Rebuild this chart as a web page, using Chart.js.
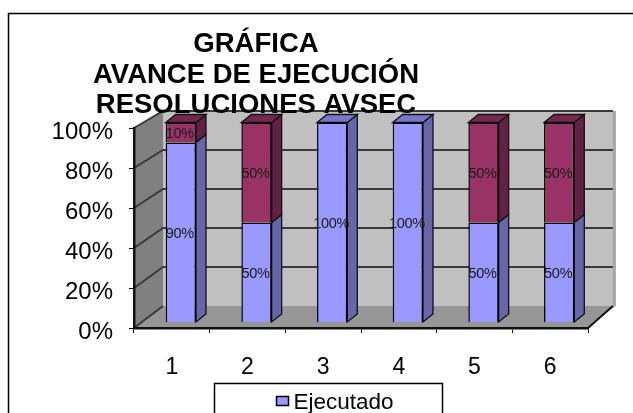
<!DOCTYPE html>
<html><head><meta charset="utf-8">
<style>html,body{margin:0;padding:0;background:#fff;overflow:hidden}canvas{display:block}</style>
<script src="https://cdn.jsdelivr.net/npm/chart.js@4"></script>
</head><body><canvas id="c" width="633" height="413"></canvas>
<script>
const categories = ['1','2','3','4','5','6'];
const ejecutado = [90,50,100,100,50,50];
const pendiente = [10,50,0,0,50,50];
const titleLines = ['GRÁFICA','AVANCE DE EJECUCIÓN','RESOLUCIONES AVSEC'];
const yTicks = [0,20,40,60,80,100];

const FONT = '"Liberation Sans", Arial, sans-serif';
const backX = x => x + 29 - (x - 134) * 0.009;
const backY = y => y - 22 + (328 - y) * 0.025;
const SHIFT = {x: 9, y: -5.5}, SIDE = {x: 10, y: -8};
const shade = {
  '#9999FF': {side: '#6666A8', top: '#7777CC'},
  '#993366': {side: '#632146', top: '#752750'}
};
function poly(ctx, pts, fill, stroke, lw) {
  ctx.beginPath();
  pts.forEach((p, i) => i ? ctx.lineTo(p[0], p[1]) : ctx.moveTo(p[0], p[1]));
  ctx.closePath();
  if (fill) { ctx.fillStyle = fill; ctx.fill(); }
  if (stroke) { ctx.strokeStyle = stroke; ctx.lineWidth = lw || 1; ctx.stroke(); }
}
const scene = {
  id: 'scene',
  beforeDraw(chart) {
    const {ctx, chartArea: a, scales: {y}} = chart;
    const L = a.left, R = a.right, T = y.getPixelForValue(100), B = y.getPixelForValue(0);
    ctx.save();
    // frame
    ctx.strokeStyle = '#000'; ctx.lineWidth = 1.5;
    ctx.strokeRect(8.5, 13.5, 640, 420);
    // walls
    poly(ctx, [[backX(L),backY(T)],[backX(R)+2,backY(T)],[backX(R)+2,backY(B)],[backX(L),backY(B)]], '#C0C0C0');
    ctx.fillStyle = '#A6A6A6'; ctx.fillRect(backX(R), backY(T), 3, backY(B)-backY(T));
    poly(ctx, [[L,T],[backX(L),backY(T)],[backX(L),backY(B)],[L,B]], '#808080');
    poly(ctx, [[L,B],[backX(L),backY(B)],[backX(R)+2,backY(B)],[R,B]], '#969696');
    // grid
    ctx.strokeStyle = '#3A3A3A'; ctx.lineWidth = 2;
    yTicks.forEach(v => {
      const p = y.getPixelForValue(v);
      ctx.beginPath();
      ctx.moveTo(L, p); ctx.lineTo(backX(L), backY(p));
      if (v > 0) ctx.lineTo(backX(R), backY(p));
      ctx.stroke();
    });
    // right floor edge
    ctx.strokeStyle = '#111'; ctx.lineWidth = 2;
    ctx.beginPath(); ctx.moveTo(R, B); ctx.lineTo(backX(R), backY(B)); ctx.stroke();
    ctx.restore();
  },
  beforeDatasetsDraw(chart) {
    const {ctx} = chart;
    ctx.save();
    ctx.translate(SHIFT.x, SHIFT.y);
    chart.data.datasets.forEach((ds, di) => {
      const s = shade[ds.backgroundColor];
      chart.getDatasetMeta(di).data.forEach((el, i) => {
        if (!ds.data[i]) return;
        const {x, y, base, width} = el.getProps(['x','y','base','width'], true);
        const r = x + width / 2, l = x - width / 2;
        poly(ctx, [[r,y],[r+SIDE.x,y+SIDE.y],[r+SIDE.x,base+SIDE.y],[r,base]], s.side, '#111', 1.3);
        const isTop = di === chart.data.datasets.length - 1 || !chart.data.datasets[di+1].data[i];
        if (isTop) poly(ctx, [[l,y],[l+SIDE.x,y+SIDE.y],[r+SIDE.x,y+SIDE.y],[r,y]], s.top, '#111', 1.3);
      });
    });
  },
  afterDatasetsDraw(chart) {
    const {ctx} = chart;
    ctx.font = '14.5px ' + FONT;
    ctx.letterSpacing = '-0.3px';
    ctx.fillStyle = '#1a1a1a';
    ctx.textAlign = 'center'; ctx.textBaseline = 'middle';
    chart.data.datasets.forEach((ds, di) => {
      chart.getDatasetMeta(di).data.forEach((el, i) => {
        if (!ds.data[i]) return;
        const {x, y, base} = el.getProps(['x','y','base'], true);
        ctx.fillText(ds.data[i] + '%', x - 1, (y + base) / 2 + 1.5);
      });
    });
    ctx.letterSpacing = '0px';
    ctx.restore();
  },
  afterDraw(chart) {
    const {ctx} = chart;
    ctx.save();
    // title
    ctx.fillStyle = '#000';
    ctx.font = 'bold 27.5px ' + FONT;
    ctx.textAlign = 'center'; ctx.textBaseline = 'alphabetic';
    titleLines.forEach((t, i) => ctx.fillText(t, 256, 52 + i * 30.5));
    // legend
    const ds = chart.data.datasets[0];
    ctx.fillStyle = '#fff'; ctx.strokeStyle = '#000'; ctx.lineWidth = 1.5;
    ctx.fillRect(214, 383, 228, 40); ctx.strokeRect(214.5, 383.5, 228, 40);
    ctx.fillStyle = ds.backgroundColor; ctx.lineWidth = 1.5;
    ctx.fillRect(276.5, 396.5, 12, 9); ctx.strokeRect(276.5, 396.5, 12, 9);
    ctx.fillStyle = '#000'; ctx.font = '22.5px ' + FONT; ctx.textAlign = 'left';
    ctx.fillText(ds.label, 293.5, 409);
    ctx.restore();
  }
};
new Chart(document.getElementById('c'), {
  type: 'bar',
  data: {
    labels: categories,
    datasets: [
      {label: 'Ejecutado', data: ejecutado, backgroundColor: '#9999FF', borderColor: '#000', borderWidth: 1.5},
      {label: 'Pendiente', data: pendiente, backgroundColor: '#993366', borderColor: '#000', borderWidth: 1.5}
    ]
  },
  options: {
    responsive: false, animation: false,
    layout: {padding: {left: 0, top: 128, right: 45, bottom: 0}},
    datasets: {bar: {categoryPercentage: 1, barPercentage: 0.4, clip: false}},
    plugins: {legend: {display: false}, title: {display: false}, tooltip: {enabled: false}},
    scales: {
      x: {
        stacked: true,
        afterFit(s) { s.height = 85; },
        grid: {drawOnChartArea: false, color: '#000', tickLength: 5},
        border: {color: '#111', width: 2.5},
        ticks: {color: '#000', font: {size: 23, family: FONT}, padding: 21, maxRotation: 0}
      },
      y: {
        stacked: true, min: 0, max: 100,
        afterFit(s) { s.width = 134; },
        afterBuildTicks(s) { s.ticks = yTicks.map(v => ({value: v})); },
        grid: {drawOnChartArea: false, color: '#000', tickLength: 5},
        border: {color: '#111', width: 2.5},
        ticks: {color: '#000', font: {size: 24, family: FONT}, padding: 16, labelOffset: 4, callback: v => v + '%'}
      }
    }
  },
  plugins: [scene]
});
</script></body></html>
